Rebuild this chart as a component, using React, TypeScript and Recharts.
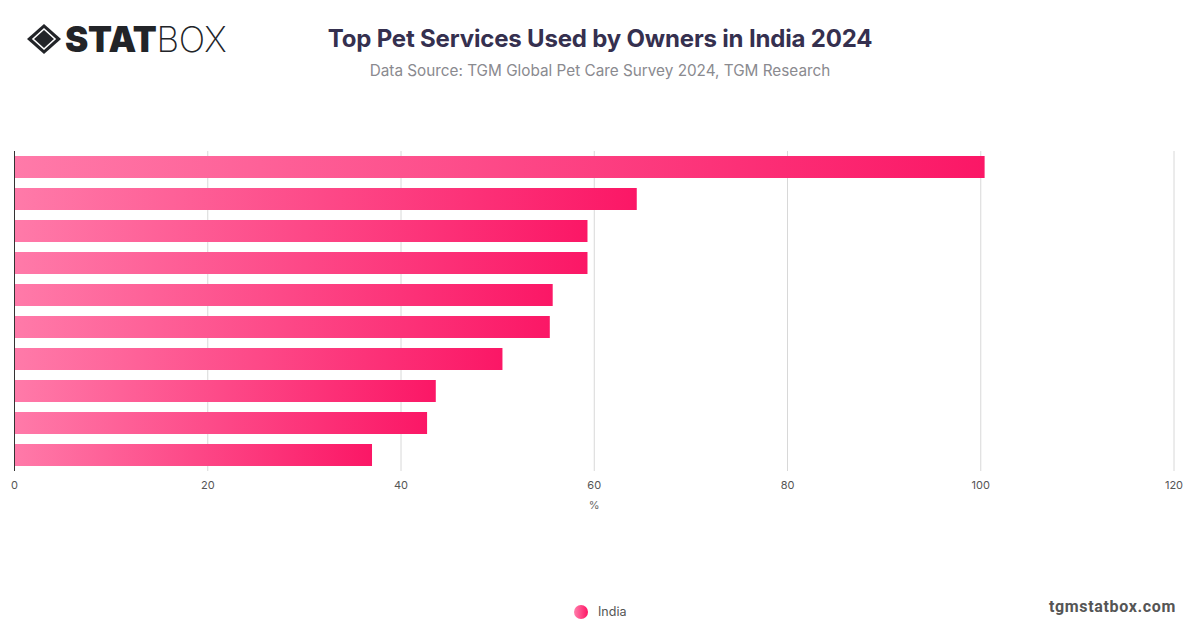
import { Bar, BarChart, CartesianGrid, Legend, XAxis, YAxis } from "recharts";

// service names are not printed in the reference, so the rows are just ranks
const categories = ["1", "2", "3", "4", "5", "6", "7", "8", "9", "10"];
const india = [100.4, 64.4, 59.3, 59.3, 55.7, 55.4, 50.5, 43.6, 42.7, 37.0];
const xTicks = [0, 20, 40, 60, 80, 100, 120];

const data = categories.map((name, i) => ({ name, India: india[i] }));

const font = "Inter, 'Open Sans', sans-serif";

const Logo = () => (
  <div style={{ position: "absolute", left: 26, top: 22, height: 34, display: "flex", alignItems: "center" }}>
    <svg width="36" height="32" viewBox="0 0 36 32">
      <path d="M18 1 L35 16 L18 31 L1 16 Z" fill="#222428" />
      <path d="M18 6 L29 16 L18 26 L7 16 Z" fill="#222428" stroke="#fff" strokeWidth="1.6" />
    </svg>
    <span style={{ fontFamily: font, fontSize: 35, fontWeight: 900, color: "#222428", marginLeft: 3, letterSpacing: -0.3 }}>STAT</span>
    <span style={{ fontFamily: font, fontSize: 35, fontWeight: 200, color: "#222428", letterSpacing: -0.3 }}>BOX</span>
  </div>
);

const LegendContent = () => (
  <div style={{ display: "flex", justifyContent: "center", alignItems: "center", fontFamily: font, fontSize: 12.5, color: "#555", paddingLeft: 13 }}>
    <span style={{ width: 14, height: 14, borderRadius: 7, marginRight: 10, background: "linear-gradient(90deg, #ff7fac, #ff1464)" }} />
    India
  </div>
);

const App = () => {
  return (
    <div style={{ position: "absolute", left: 0, top: 0, width: 1200, height: 628, background: "#fff", overflow: "hidden" }}>
      <Logo />
      <div style={{ position: "absolute", left: 0, width: 1200, top: 24, textAlign: "center", fontFamily: font, fontSize: 24, fontWeight: 700, color: "#35304f", letterSpacing: -0.18 }}>
        Top Pet Services Used by Owners in India 2024
      </div>
      <div style={{ position: "absolute", left: 0, width: 1200, top: 61, textAlign: "center", fontFamily: font, fontSize: 15.3, color: "#8a8a8f" }}>
        Data Source: TGM Global Pet Care Survey 2024, TGM Research
      </div>
      <div style={{ position: "absolute", right: 24, top: 597, fontFamily: "Roboto, sans-serif", fontSize: 16, fontWeight: 700, color: "#555", letterSpacing: 0.65 }}>
        tgmstatbox.com
      </div>
      <BarChart
        width={1200}
        height={628}
        data={data}
        layout="vertical"
        barCategoryGap="16%"
        margin={{ top: 151, right: 26, bottom: 112, left: 13.5 }}
      >
        <defs>
          <linearGradient id="barFill" x1="0" y1="0" x2="1" y2="0">
            <stop offset="0%" stopColor="#ff7aa9" />
            <stop offset="100%" stopColor="#fb1766" />
          </linearGradient>
        </defs>
        <CartesianGrid horizontal={false} stroke="#d8d8d8" />
        <XAxis
          type="number"
          domain={[0, 120]}
          ticks={xTicks}
          axisLine={false}
          tickLine={false}
          tickMargin={4}
          tick={{ fontSize: 11, fill: "#555", fontFamily: font }}
          height={30}
          label={{ value: "%", position: "insideBottom", offset: -8, fontSize: 11, fill: "#666", fontFamily: font }}
        />
        <YAxis type="category" dataKey="name" width={1} tick={false} tickLine={false} axisLine={{ stroke: "#333" }} />
        <Bar dataKey="India" fill="url(#barFill)" isAnimationActive={false} />
        <Legend verticalAlign="bottom" content={<LegendContent />} wrapperStyle={{ bottom: 9 }} />
      </BarChart>
    </div>
  );
};

export default App;
